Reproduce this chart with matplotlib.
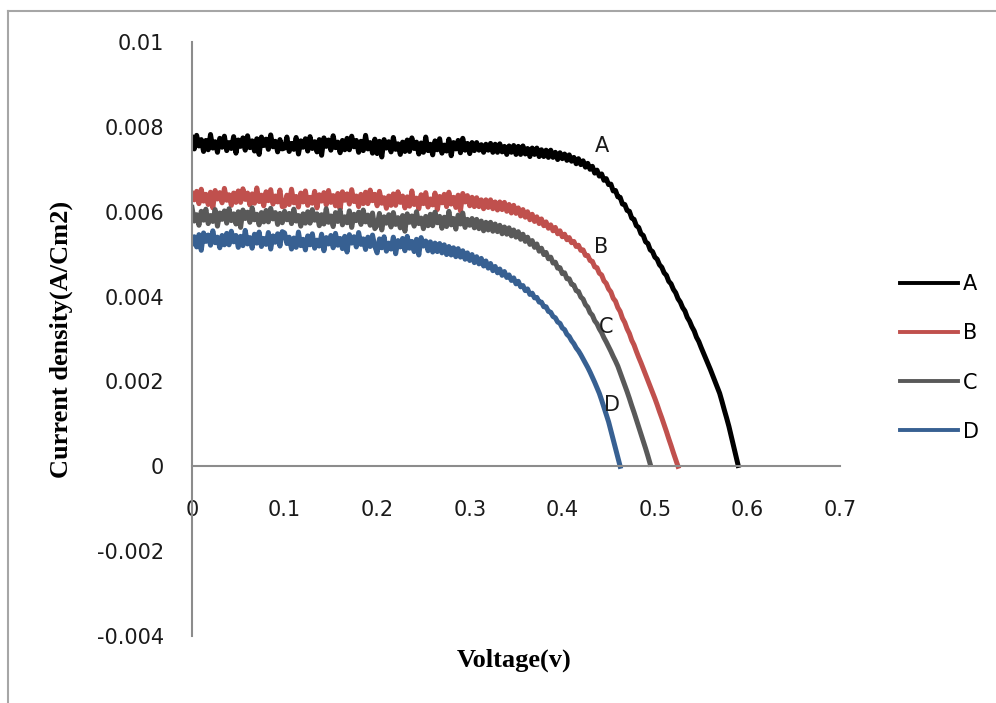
import numpy as np
import matplotlib.pyplot as plt
from matplotlib.lines import Line2D

# J-V curves, current density in mA/cm2 (scaled to A/cm2 below)
# sampled every 0.0025 V starting at 0 V
step = 0.0025

curve_A = [7.75, 7.48, 7.80, 7.55, 7.70, 7.42, 7.68, 7.46, 7.82, 7.50,
           7.65, 7.40, 7.73, 7.52, 7.78, 7.44, 7.63, 7.49, 7.77, 7.38,
           7.69, 7.54, 7.74, 7.45, 7.79, 7.51, 7.67, 7.43, 7.72, 7.35,
           7.76, 7.56, 7.71, 7.47, 7.81, 7.53, 7.66, 7.41, 7.70, 7.48,
           7.50, 7.76, 7.42, 7.61, 7.47, 7.75, 7.36, 7.67, 7.52, 7.72,
           7.43, 7.77, 7.49, 7.65, 7.41, 7.70, 7.33, 7.74, 7.54, 7.69,
           7.45, 7.79, 7.51, 7.64, 7.39, 7.68, 7.46, 7.73, 7.46, 7.78,
           7.53, 7.68, 7.40, 7.66, 7.44, 7.80, 7.48, 7.63, 7.38, 7.71,
           7.37, 7.66, 7.29, 7.70, 7.50, 7.65, 7.41, 7.75, 7.47, 7.60,
           7.35, 7.64, 7.42, 7.69, 7.42, 7.74, 7.49, 7.64, 7.36, 7.62,
           7.40, 7.76, 7.44, 7.59, 7.34, 7.67, 7.46, 7.72, 7.38, 7.57,
           7.43, 7.71, 7.32, 7.63, 7.48, 7.68, 7.39, 7.73, 7.45, 7.61,
           7.37,
           7.63, 7.44, 7.63, 7.45, 7.58, 7.40, 7.59, 7.45, 7.61, 7.40,
           7.59, 7.40, 7.60, 7.41, 7.54, 7.35, 7.55, 7.40, 7.56, 7.35,
           7.54, 7.35, 7.55, 7.36, 7.49, 7.30, 7.50, 7.35, 7.50, 7.30,
           7.46, 7.30, 7.45, 7.28, 7.45, 7.28, 7.40, 7.23, 7.39, 7.25,
           7.36, 7.21, 7.34, 7.19, 7.28, 7.13, 7.25, 7.11, 7.20, 7.05,
           7.14, 7.00, 7.07, 6.91, 6.98, 6.84, 6.89, 6.74, 6.78, 6.64,
           6.65, 6.49, 6.50, 6.35, 6.34, 6.18, 6.17, 6.03, 6.01, 5.85,
           5.82, 5.67, 5.63, 5.48, 5.44, 5.29, 5.25, 5.10, 5.06, 4.93,
           4.88, 4.75, 4.69, 4.56, 4.50, 4.36, 4.30, 4.17, 4.09, 3.95,
           3.87, 3.74, 3.66, 3.51, 3.42, 3.29, 3.19, 3.04, 2.94, 2.80,
           2.67, 2.54, 2.41, 2.28, 2.14, 2.00, 1.86, 1.72, 1.53, 1.33,
           1.14, 0.94, 0.71, 0.48, 0.25, 0.02]

curve_B = [6.43, 6.28, 6.48, 6.19, 6.53, 6.25, 6.41, 6.17, 6.46, 6.09,
           6.50, 6.30, 6.45, 6.21, 6.55, 6.27, 6.40, 6.15, 6.44, 6.22,
           6.49, 6.22, 6.54, 6.29, 6.44, 6.16, 6.42, 6.20, 6.56, 6.24,
           6.39, 6.14, 6.47, 6.26, 6.52, 6.18, 6.37, 6.23, 6.51, 6.12,
           6.13, 6.39, 6.17, 6.53, 6.21, 6.36, 6.11, 6.44, 6.23, 6.49,
           6.15, 6.34, 6.20, 6.48, 6.09, 6.40, 6.25, 6.45, 6.16, 6.50,
           6.22, 6.38, 6.14, 6.43, 6.06, 6.47, 6.27, 6.42, 6.18, 6.52,
           6.24, 6.37, 6.12, 6.41, 6.19, 6.46, 6.19, 6.51, 6.26, 6.41,
           6.14, 6.48, 6.20, 6.33, 6.08, 6.37, 6.15, 6.42, 6.15, 6.47,
           6.22, 6.37, 6.09, 6.35, 6.13, 6.49, 6.17, 6.32, 6.07, 6.40,
           6.19, 6.45, 6.11, 6.30, 6.16, 6.44, 6.05, 6.36, 6.21, 6.41,
           6.12, 6.46, 6.18, 6.34, 6.10, 6.39, 6.02, 6.43, 6.23, 6.38,
           6.14,
           6.34, 6.12, 6.33, 6.12, 6.28, 6.07, 6.28, 6.10, 6.28, 6.07,
           6.23, 6.04, 6.23, 6.05, 6.22, 6.01, 6.17, 5.97, 6.15, 5.96,
           6.09, 5.90, 6.05, 5.87, 6.00, 5.81, 5.94, 5.77, 5.88, 5.72,
           5.83, 5.67, 5.76, 5.61, 5.69, 5.55, 5.63, 5.48, 5.55, 5.41,
           5.47, 5.34, 5.39, 5.27, 5.30, 5.18, 5.21, 5.09, 5.10, 4.97,
           4.97, 4.85, 4.83, 4.70, 4.68, 4.55, 4.51, 4.37, 4.31, 4.18,
           4.11, 3.96, 3.89, 3.74, 3.65, 3.49, 3.39, 3.24, 3.13, 2.97,
           2.86, 2.71, 2.57, 2.44, 2.30, 2.16, 2.02, 1.88, 1.74, 1.60,
           1.45, 1.29, 1.14, 0.98, 0.82, 0.65, 0.49, 0.32, 0.16, 0.00]

curve_C = [6.10, 5.78, 5.93, 5.68, 6.01, 5.80, 6.06, 5.72, 5.91, 5.77,
           6.05, 5.66, 5.97, 5.82, 6.02, 5.73, 6.07, 5.79, 5.95, 5.71,
           6.00, 5.63, 6.04, 5.84, 5.99, 5.75, 6.09, 5.81, 5.94, 5.69,
           5.98, 5.76, 6.03, 5.76, 6.08, 5.83, 5.98, 5.70, 5.96, 5.74,
           6.01, 5.81, 5.96, 5.72, 6.06, 5.78, 5.91, 5.66, 5.95, 5.73,
           6.00, 5.73, 6.05, 5.80, 5.95, 5.67, 5.93, 5.71, 6.07, 5.75,
           5.90, 5.65, 5.98, 5.77, 6.03, 5.69, 5.88, 5.74, 6.02, 5.63,
           5.94, 5.79, 5.99, 5.70, 6.04, 5.76, 5.92, 5.68, 5.97, 5.60,
           5.68, 5.96, 5.57, 5.88, 5.73, 5.93, 5.64, 5.98, 5.70, 5.86,
           5.62, 5.91, 5.54, 5.95, 5.75, 5.90, 5.66, 6.00, 5.72, 5.85,
           5.60, 5.89, 5.67, 5.94, 5.67, 5.99, 5.74, 5.89, 5.61, 5.87,
           5.65, 6.01, 5.69, 5.84, 5.59, 5.92, 5.71, 5.97, 5.63, 5.82,
           5.68,
           5.84, 5.62, 5.82, 5.60, 5.78, 5.55, 5.75, 5.57, 5.75, 5.54,
           5.71, 5.53, 5.68, 5.48, 5.64, 5.47, 5.62, 5.43, 5.57, 5.40,
           5.53, 5.35, 5.47, 5.30, 5.40, 5.23, 5.32, 5.16, 5.24, 5.07,
           5.14, 4.99, 5.04, 4.89, 4.93, 4.79, 4.81, 4.67, 4.68, 4.54,
           4.56, 4.42, 4.42, 4.29, 4.27, 4.14, 4.12, 3.99, 3.94, 3.81,
           3.75, 3.62, 3.56, 3.43, 3.36, 3.24, 3.15, 3.03, 2.93, 2.82,
           2.71, 2.59, 2.48, 2.36, 2.21, 2.06, 1.91, 1.76, 1.60, 1.43,
           1.27, 1.10, 0.93, 0.76, 0.59, 0.42, 0.24, 0.05]

curve_D = [5.25, 5.41, 5.17, 5.46, 5.09, 5.50, 5.30, 5.45, 5.21, 5.55,
           5.27, 5.40, 5.15, 5.44, 5.22, 5.49, 5.22, 5.54, 5.29, 5.44,
           5.16, 5.42, 5.20, 5.56, 5.24, 5.39, 5.14, 5.47, 5.26, 5.52,
           5.18, 5.37, 5.23, 5.51, 5.12, 5.43, 5.28, 5.48, 5.19, 5.53,
           5.50, 5.25, 5.40, 5.12, 5.38, 5.16, 5.52, 5.20, 5.35, 5.10,
           5.43, 5.22, 5.48, 5.14, 5.33, 5.19, 5.47, 5.08, 5.39, 5.24,
           5.44, 5.15, 5.49, 5.21, 5.37, 5.13, 5.42, 5.05, 5.46, 5.26,
           5.41, 5.17, 5.51, 5.23, 5.36, 5.11, 5.40, 5.18, 5.45, 5.18,
           5.03, 5.36, 5.15, 5.41, 5.07, 5.26, 5.12, 5.40, 5.01, 5.32,
           5.17, 5.37, 5.08, 5.42, 5.14, 5.30, 5.06, 5.35, 4.98, 5.39,
           5.19,
           5.31, 5.08, 5.29, 5.05, 5.26, 5.06, 5.25, 5.03, 5.22, 4.99,
           5.18, 4.98, 5.15, 4.94, 5.13, 4.93, 5.08, 4.88, 5.03, 4.85,
           4.99, 4.80, 4.94, 4.77, 4.90, 4.72, 4.84, 4.67, 4.78, 4.61,
           4.71, 4.56, 4.65, 4.50, 4.59, 4.45, 4.51, 4.38, 4.44, 4.30,
           4.36, 4.23, 4.26, 4.14, 4.18, 4.05, 4.08, 3.97, 3.98, 3.87,
           3.87, 3.76, 3.76, 3.65, 3.63, 3.53, 3.50, 3.40, 3.37, 3.26,
           3.22, 3.11, 3.06, 2.96, 2.89, 2.79, 2.72, 2.63, 2.53, 2.43,
           2.33, 2.22, 2.10, 1.98, 1.85, 1.72, 1.56, 1.39, 1.22, 1.05,
           0.84, 0.63, 0.42, 0.20, 0.00]

names = ["A", "B", "C", "D"]
colors = ["#000000", "#C0504D", "#595959", "#376092"]

# where the letters sit next to each curve (V, A/cm2)
label_x = [0.4424, 0.4424, 0.4478, 0.4532]
label_y = [0.00755, 0.00516, 0.00328, 0.00144]

x_ticks = [0, 0.1, 0.2, 0.3, 0.4, 0.5, 0.6, 0.7]
x_labels = ["0", "0.1", "0.2", "0.3", "0.4", "0.5", "0.6", "0.7"]
y_ticks = [-0.004, -0.002, 0, 0.002, 0.004, 0.006, 0.008, 0.01]
y_labels = ["-0.004", "-0.002", "0", "0.002", "0.004", "0.006", "0.008", "0.01"]

fig = plt.figure(figsize=(9.96, 7.03), dpi=100)
ax = fig.add_axes([192/996, 1-636/703, (840-192)/996, (636-42)/703])

tick_size = 15
for name, cur, col in zip(names, [curve_A, curve_B, curve_C, curve_D], colors):
    j = np.array(cur) * 1e-3
    v = np.arange(len(j)) * step
    ax.plot(v, j, color=col, lw=3.6, label=name)

for name, lx, ly in zip(names, label_x, label_y):
    ax.text(lx, ly, name, fontsize=tick_size, ha="center", va="center", color="#1a1a1a")

ax.set_xlim(0, 0.7)
ax.set_ylim(-0.004, 0.01)
ax.set_xticks(x_ticks)
ax.set_xticklabels(x_labels)
ax.set_yticks(y_ticks)
ax.set_yticklabels(y_labels)

for s in ["top", "right"]:
    ax.spines[s].set_visible(False)
ax.spines["bottom"].set_position(("data", 0))
for s in ["left", "bottom"]:
    ax.spines[s].set_color("#8c8c8c")
    ax.spines[s].set_linewidth(1.5)

ax.tick_params(axis="x", length=0, pad=24.5, labelsize=tick_size, colors="#1a1a1a")
ax.tick_params(axis="y", length=0, pad=20, labelsize=tick_size, colors="#1a1a1a")

fig.text(61/996, 1-339/703, "Current density(A/Cm2)", rotation=90, ha="center", va="center",
         fontfamily="Liberation Serif", fontweight="bold", fontsize=19)
fig.text(514/996, 1-660/703, "Voltage(v)", ha="center", va="center",
         fontfamily="Liberation Serif", fontweight="bold", fontsize=19)

leg = fig.legend(loc="center left", bbox_to_anchor=(900/996, 1-358/703), frameon=False,
                 fontsize=tick_size, handlelength=2.8, handletextpad=0.2, labelspacing=1.4,
                 borderpad=0, borderaxespad=0)
for h in leg.get_lines():
    h.set_linewidth(2.8)

# grey frame around the chart area (top and left only are visible)
fig.add_artist(Line2D([8/996, 1], [1-11/703, 1-11/703], transform=fig.transFigure, color="#a6a6a6", lw=1.5))
fig.add_artist(Line2D([8/996, 8/996], [0, 1-11/703], transform=fig.transFigure, color="#a6a6a6", lw=1.5))

fig.savefig("out.png", dpi=100)
